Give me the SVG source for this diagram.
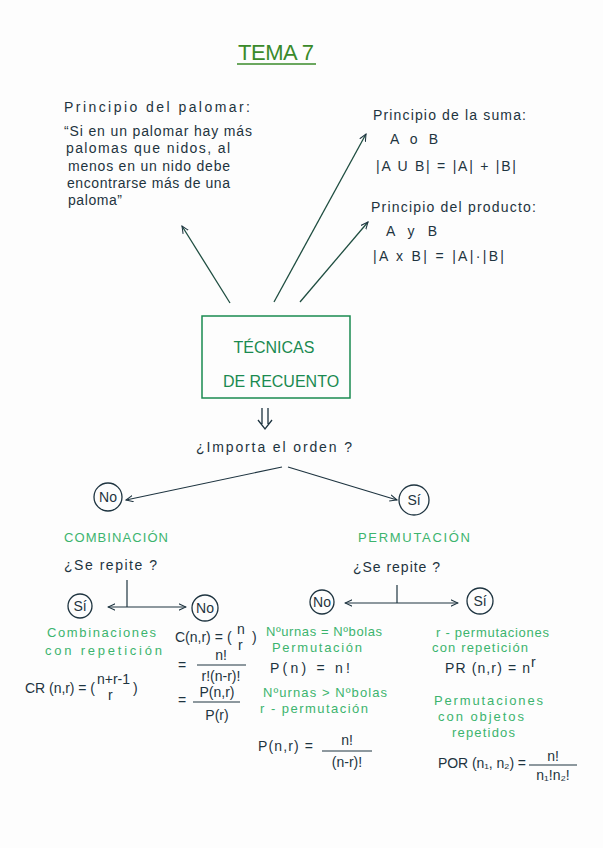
<svg xmlns="http://www.w3.org/2000/svg" width="603" height="848" viewBox="0 0 603 848">
<defs>
<style>
.ink{font-family:"Liberation Sans","DejaVu Sans",sans-serif;fill:#1e3440;font-size:14px}
.grn{font-family:"Liberation Sans","DejaVu Sans",sans-serif;fill:#3cb46e;font-size:13px}
.dg{font-family:"Liberation Sans","DejaVu Sans",sans-serif;fill:#1a8a50}
.ln{stroke:#1e4d40;stroke-width:1.3;fill:none}
.k{stroke:#1e3440;stroke-width:1.2;fill:none}
.c{stroke:#1e3440;stroke-width:1.3;fill:none}
</style>
<marker id="ah" viewBox="0 0 10 10" refX="9" refY="5" markerWidth="8" markerHeight="8" orient="auto-start-reverse" markerUnits="userSpaceOnUse">
<path d="M0,1 L9,5 L0,9" fill="none" stroke="#1e3440" stroke-width="1.3"/>
</marker>
</defs>
<rect width="603" height="848" fill="#fdfdfd"/>

<g id="title">
<text x="238" y="60" font-family="Liberation Sans,sans-serif" font-size="22" fill="#3a8a2a" textLength="76" lengthAdjust="spacing">TEMA 7</text>
<line x1="237" y1="64" x2="316" y2="64" stroke="#3a8a2a" stroke-width="1.5"/>
</g>

<g id="connectors">
<line class="ln" x1="230" y1="303" x2="182" y2="226" marker-end="url(#ah)"/>
<line class="ln" x1="274" y1="302" x2="366" y2="134" marker-end="url(#ah)"/>
<line class="ln" x1="300" y1="302" x2="368" y2="222" marker-end="url(#ah)"/>
<path d="M262,408 V424 M268,408 V424 M258,420 L265,429 L272,420" class="c"/>
<line class="k" x1="282" y1="467" x2="126" y2="500" marker-end="url(#ah)"/>
<line class="k" x1="288" y1="467" x2="397" y2="500" marker-end="url(#ah)"/>
<line class="k" x1="127" y1="580" x2="127" y2="607"/>
<line class="k" x1="108" y1="607" x2="186" y2="607" marker-start="url(#ah)" marker-end="url(#ah)"/>
<line class="k" x1="397" y1="585" x2="397" y2="603"/>
<line class="k" x1="345" y1="603" x2="458" y2="603" marker-start="url(#ah)" marker-end="url(#ah)"/>
</g>

<g id="palomar">
<text class="ink" x="64" y="112" font-size="15" textLength="186" lengthAdjust="spacing">Principio del palomar:</text>
<text class="ink" x="64" y="136" font-size="12.5" textLength="188" lengthAdjust="spacing">“Si en un palomar hay más</text>
<text class="ink" x="66" y="153" font-size="12.5" textLength="164" lengthAdjust="spacing">palomas que nidos, al</text>
<text class="ink" x="68" y="171" font-size="12.5" textLength="162" lengthAdjust="spacing">menos en un nido debe</text>
<text class="ink" x="67" y="188" font-size="12.5" textLength="163" lengthAdjust="spacing">encontrarse más de una</text>
<text class="ink" x="68" y="205" font-size="12.5" textLength="54" lengthAdjust="spacing">paloma”</text>
</g>

<g id="suma">
<text class="ink" x="373" y="120" font-size="14" textLength="153" lengthAdjust="spacing">Principio de la suma:</text>
<text class="ink" x="390" y="144" font-size="14" textLength="48" lengthAdjust="spacing">A o B</text>
<text class="ink" x="376" y="171" font-size="14" textLength="140" lengthAdjust="spacing">|A U B| = |A| + |B|</text>
</g>

<g id="producto">
<text class="ink" x="371" y="212" font-size="14" textLength="165" lengthAdjust="spacing">Principio del producto:</text>
<text class="ink" x="386" y="236" font-size="14" textLength="51" lengthAdjust="spacing">A y B</text>
<text class="ink" x="373" y="261" font-size="14" textLength="131" lengthAdjust="spacing">|A x B| = |A|·|B|</text>
</g>

<g id="tecnicas">
<rect x="202" y="316" width="148" height="82" fill="none" stroke="#1a8a50" stroke-width="1.5"/>
<text class="dg" x="274" y="353" font-size="16" text-anchor="middle">TÉCNICAS</text>
<text class="dg" x="281" y="387" font-size="16" text-anchor="middle">DE RECUENTO</text>
</g>

<g id="pregunta">
<text class="ink" x="196" y="452" font-size="16" textLength="156" lengthAdjust="spacing">¿Importa el orden ?</text>
</g>

<g id="no1">
<circle cx="108" cy="497" r="14" class="c"/>
<text class="ink" x="108" y="502" font-size="13" text-anchor="middle">No</text>
</g>
<g id="si1">
<circle cx="414" cy="500" r="15" class="c"/>
<text class="ink" x="414" y="505" font-size="13" text-anchor="middle">Sí</text>
</g>

<g id="combinacion">
<text class="grn" x="64" y="542" font-size="14" textLength="104" lengthAdjust="spacing">COMBINACIÓN</text>
<text class="ink" x="64" y="570" font-size="14" textLength="93" lengthAdjust="spacing">¿Se repite ?</text>
</g>
<g id="permutacion">
<text class="grn" x="358" y="542" font-size="14" textLength="112" lengthAdjust="spacing">PERMUTACIÓN</text>
<text class="ink" x="353" y="572" font-size="14" textLength="87" lengthAdjust="spacing">¿Se repite ?</text>
</g>

<g id="si2">
<circle cx="80" cy="606" r="12" class="c"/>
<text class="ink" x="80" y="611" font-size="12" text-anchor="middle">Sí</text>
</g>
<g id="no2">
<circle cx="205" cy="608" r="13" class="c"/>
<text class="ink" x="205" y="613" font-size="12" text-anchor="middle">No</text>
</g>
<g id="no3">
<circle cx="322" cy="602" r="12" class="c"/>
<text class="ink" x="322" y="607" font-size="12" text-anchor="middle">No</text>
</g>
<g id="si3">
<circle cx="480" cy="601" r="13" class="c"/>
<text class="ink" x="480" y="606" font-size="12" text-anchor="middle">Sí</text>
</g>

<g id="comb-rep">
<text class="grn" x="47" y="637" textLength="109" lengthAdjust="spacing">Combinaciones</text>
<text class="grn" x="45" y="655" textLength="117" lengthAdjust="spacing">con repetición</text>
<text class="ink" x="25" y="693" font-size="13" textLength="70" lengthAdjust="spacing">CR (n,r) = (</text>
<text class="ink" x="97" y="684" font-size="10">n+r-1</text>
<text class="ink" x="108" y="700" font-size="10">r</text>
<text class="ink" x="133" y="693" font-size="13">)</text>
</g>

<g id="comb">
<text class="ink" x="175" y="642" font-size="13">C(n,r) =</text>
<text class="ink" x="227" y="642" font-size="13">(</text>
<text class="ink" x="237" y="634" font-size="9">n</text>
<text class="ink" x="238" y="650" font-size="9">r</text>
<text class="ink" x="252" y="642" font-size="13">)</text>
<text class="ink" x="178" y="670" font-size="13">=</text>
<text class="ink" x="221" y="660" font-size="13" text-anchor="middle">n!</text>
<line class="k" x1="197" y1="665" x2="246" y2="665"/>
<text class="ink" x="221" y="681" font-size="13" text-anchor="middle">r!(n-r)!</text>
<text class="ink" x="178" y="705" font-size="13">=</text>
<text class="ink" x="217" y="697" font-size="13" text-anchor="middle">P(n,r)</text>
<line class="k" x1="193" y1="702" x2="240" y2="702"/>
<text class="ink" x="217" y="720" font-size="13" text-anchor="middle">P(r)</text>
</g>

<g id="perm">
<text class="grn" x="266" y="636" textLength="116" lengthAdjust="spacing">Nºurnas = Nºbolas</text>
<text class="grn" x="272" y="652" textLength="90" lengthAdjust="spacing">Permutación</text>
<text class="ink" x="270" y="673" font-size="14" textLength="80" lengthAdjust="spacing">P(n) = n!</text>
<text class="grn" x="263" y="697" textLength="124" lengthAdjust="spacing">Nºurnas &gt; Nºbolas</text>
<text class="grn" x="260" y="713" textLength="108" lengthAdjust="spacing">r - permutación</text>
<text class="ink" x="258" y="751" font-size="14" textLength="55" lengthAdjust="spacing">P(n,r) =</text>
<text class="ink" x="347" y="745" font-size="13" text-anchor="middle">n!</text>
<line class="k" x1="322" y1="751" x2="372" y2="751"/>
<text class="ink" x="347" y="767" font-size="13" text-anchor="middle">(n-r)!</text>
</g>

<g id="perm-rep">
<text class="grn" x="436" y="637" textLength="113" lengthAdjust="spacing">r - permutaciones</text>
<text class="grn" x="432" y="652" textLength="96" lengthAdjust="spacing">con repetición</text>
<text class="ink" x="445" y="673" font-size="14" textLength="85" lengthAdjust="spacing">PR (n,r) = n</text>
<text class="ink" x="531" y="667" font-size="9">r</text>
</g>

<g id="perm-obj">
<text class="grn" x="434" y="705" textLength="109" lengthAdjust="spacing">Permutaciones</text>
<text class="grn" x="438" y="721" textLength="86" lengthAdjust="spacing">con objetos</text>
<text class="grn" x="452" y="737" textLength="63" lengthAdjust="spacing">repetidos</text>
<text class="ink" x="438" y="768" font-size="12" textLength="88" lengthAdjust="spacing">POR (n₁, n₂) =</text>
<text class="ink" x="553" y="761" font-size="13" text-anchor="middle">n!</text>
<line class="k" x1="529" y1="765" x2="577" y2="765"/>
<text class="ink" x="553" y="780" font-size="12" text-anchor="middle">n₁!n₂!</text>
</g>
</svg>
